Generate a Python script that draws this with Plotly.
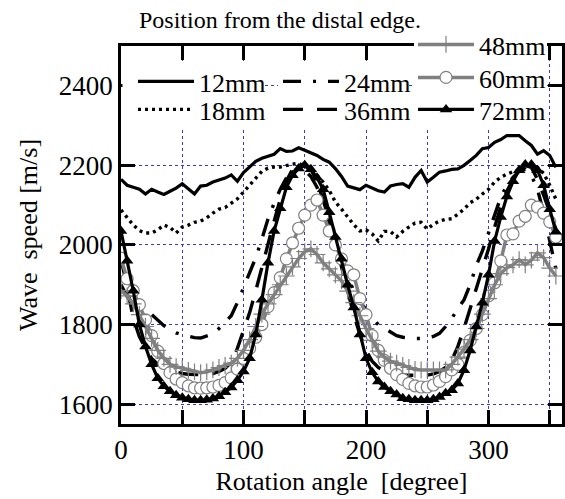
import plotly.graph_objects as go

angles = [0, 5, 10, 15, 20, 25, 30, 35, 40, 45, 50, 55, 60, 65, 70, 75, 80, 85, 90, 95,
          100, 105, 110, 115, 120, 125, 130, 135, 140, 145, 150, 155, 160, 165, 170, 175,
          180, 185, 190, 195, 200, 205, 210, 215, 220, 225, 230, 235, 240, 245, 250, 255,
          260, 265, 270, 275, 280, 285, 290, 295, 300, 305, 310, 315, 320, 325, 330, 335,
          340, 345, 350, 355]

s12 = [2165, 2150, 2145, 2140, 2128, 2140, 2133, 2127, 2135, 2143, 2154, 2140, 2128, 2148, 2150, 2158, 2163, 2168,
       2176, 2160, 2182, 2195, 2210, 2218, 2222, 2228, 2242, 2235, 2236, 2244, 2238, 2232, 2225, 2215, 2208, 2192,
       2172, 2148, 2143, 2139, 2150, 2143, 2136, 2133, 2148, 2152, 2154, 2145, 2170, 2187, 2158, 2170, 2183, 2186,
       2190, 2191, 2200, 2212, 2225, 2242, 2245, 2258, 2265, 2275, 2275, 2275, 2262, 2250, 2228, 2237, 2225, 2195]

s18 = [2088, 2068, 2050, 2036, 2030, 2030, 2038, 2050, 2044, 2030, 2045, 2050, 2057, 2060, 2068, 2080, 2090, 2094,
       2104, 2116, 2133, 2150, 2166, 2185, 2193, 2196, 2196, 2200, 2203, 2205, 2198, 2190, 2175, 2158, 2137, 2108,
       2090, 2070, 2051, 2035, 2038, 2028, 2010, 2034, 2034, 2020, 2034, 2045, 2055, 2057, 2040, 2052, 2060, 2064,
       2066, 2077, 2090, 2106, 2115, 2128, 2140, 2158, 2170, 2178, 2184, 2188, 2195, 2198, 2195, 2180, 2150, 2115]

s24 = [1900, 1870, 1850, 1845, 1838, 1825, 1810, 1797, 1788, 1779, 1774, 1770, 1767, 1766, 1770, 1776, 1790, 1805,
       1822, 1855, 1892, 1930, 1968, 2015, 2065, 2105, 2140, 2168, 2185, 2192, 2188, 2172, 2145, 2105, 2055, 2005,
       1960, 1920, 1885, 1858, 1837, 1818, 1800, 1790, 1780, 1772, 1768, 1766, 1765, 1765, 1766, 1770, 1778, 1795,
       1815, 1840, 1862, 1900, 1948, 1985, 2030, 2080, 2120, 2150, 2170, 2185, 2190, 2175, 2140, 2080, 2010, 1940]

s36 = [1965, 1895, 1815, 1770, 1740, 1715, 1700, 1690, 1684, 1680, 1677, 1675, 1674, 1674, 1675, 1677, 1682, 1690,
       1705, 1740, 1785, 1830, 1885, 1945, 2000, 2060, 2115, 2160, 2190, 2205, 2205, 2190, 2160, 2115, 2065, 2005,
       1945, 1885, 1825, 1775, 1735, 1708, 1692, 1683, 1678, 1675, 1673, 1672, 1672, 1672, 1673, 1676, 1682, 1692,
       1710, 1745, 1790, 1840, 1890, 1935, 1990, 2045, 2095, 2135, 2165, 2190, 2200, 2195, 2165, 2125, 2080, 2040]

s48 = [1885, 1872, 1852, 1825, 1795, 1765, 1735, 1715, 1700, 1694, 1690, 1685, 1681, 1679, 1681, 1686, 1692, 1697,
       1703, 1715, 1735, 1762, 1795, 1826, 1852, 1875, 1900, 1922, 1945, 1966, 1983, 1990, 1976, 1955, 1940, 1925,
       1910, 1884, 1855, 1822, 1790, 1760, 1733, 1718, 1708, 1703, 1697, 1692, 1687, 1686, 1686, 1686, 1686, 1686,
       1700, 1718, 1738, 1762, 1790, 1826, 1865, 1900, 1928, 1943, 1950, 1963, 1950, 1962, 1980, 1968, 1942, 1922]

s60 = [1967, 1915, 1885, 1850, 1812, 1772, 1733, 1702, 1679, 1663, 1654, 1646, 1641, 1640, 1641, 1643, 1647, 1654,
       1666, 1688, 1715, 1740, 1768, 1800, 1845, 1880, 1918, 1965, 2005, 2042, 2075, 2100, 2113, 2075, 2035, 2000,
       1965, 1935, 1925, 1865, 1825, 1772, 1735, 1710, 1690, 1674, 1662, 1652, 1646, 1643, 1643, 1648, 1657, 1669,
       1686, 1700, 1730, 1760, 1790, 1825, 1872, 1905, 1960, 2025, 2028, 2060, 2072, 2100, 2095, 2080, 2058, 2020]

s72 = [2035, 1960, 1885, 1800, 1745, 1700, 1665, 1645, 1632, 1622, 1616, 1612, 1610, 1610, 1611, 1614, 1620, 1630,
       1642, 1660, 1682, 1715, 1775, 1862, 1955, 2035, 2092, 2145, 2175, 2192, 2200, 2190, 2169, 2140, 2082, 2020,
       1965, 1900, 1843, 1775, 1715, 1680, 1657, 1643, 1632, 1624, 1615, 1612, 1610, 1610, 1610, 1612, 1618, 1627,
       1635, 1652, 1685, 1735, 1795, 1855, 1925, 2010, 2070, 2122, 2160, 2188, 2202, 2202, 2188, 2150, 2090, 2033]

x_tick_vals = [0, 50, 100, 150, 200, 250, 300, 350]
x_tick_text = ["0", "", "100", "", "200", "", "300", ""]
y_tick_vals = [1600, 1800, 2000, 2200, 2400]
y_tick_text = ["1600", "1800", "2000", "2200", "2400"]

FONT = "Liberation Serif, Times New Roman, serif"
GRAY = "#808080"

fig = go.Figure()

fig.add_trace(go.Scatter(x=angles, y=s12, name="12mm", mode="lines",
                         line=dict(color="black", width=3.2), legend="legend"))
fig.add_trace(go.Scatter(x=angles, y=s18, name="18mm", mode="lines",
                         line=dict(color="black", width=3.4, dash="3px,4px"), legend="legend2"))
fig.add_trace(go.Scatter(x=angles, y=s24, name="24mm", mode="lines",
                         line=dict(color="black", width=3.4, dash="18px,12px,3px,12px"), legend="legend3"))
fig.add_trace(go.Scatter(x=angles, y=s36, name="36mm", mode="lines",
                         line=dict(color="black", width=3.4, dash="20px,14px"), legend="legend4"))
fig.add_trace(go.Scatter(x=angles, y=s60, name="60mm", mode="lines+markers",
                         line=dict(color=GRAY, width=3.5),
                         marker=dict(symbol="circle", size=12, color="white",
                                     line=dict(color=GRAY, width=1.2)),
                         legend="legend6"))
fig.add_trace(go.Scatter(x=angles, y=s48, name="48mm", mode="lines+markers",
                         line=dict(color=GRAY, width=3.5),
                         marker=dict(symbol="cross-thin-open", size=12, color=GRAY,
                                     line=dict(color=GRAY, width=1.2)),
                         legend="legend5"))
fig.add_trace(go.Scatter(x=angles, y=s72, name="72mm", mode="lines+markers",
                         line=dict(color="black", width=3.2),
                         marker=dict(symbol="triangle-up", size=11, color="black"),
                         legend="legend7"))

L, R, T, B = 121, 3, 46, 75
W = 565 - L - R
H = 499 - T - B


def px_x(p):
    return (p - L) / W


def px_y(p):
    return 1 - (p - T) / H


def leg(left_px, top_px):
    return dict(x=px_x(left_px), y=px_y(top_px), bgcolor="rgba(0,0,0,0)", borderwidth=0,
                font=dict(family=FONT, size=26, color="black"), itemwidth=56,
                xanchor="left", yanchor="top", itemclick=False, itemdoubleclick=False)


def white_box(x0, x1, y0, y1):
    return dict(type="rect", xref="paper", yref="paper", layer="above",
                x0=px_x(x0), x1=px_x(x1), y0=px_y(y1), y1=px_y(y0),
                fillcolor="white", line=dict(width=0))


fig.update_layout(
    width=565, height=499,
    margin=dict(l=L, r=R, t=T, b=B, autoexpand=False),
    paper_bgcolor="white", plot_bgcolor="white",
    font=dict(family=FONT, size=26, color="black"),
    showlegend=True,
    legend=leg(133, 58),
    legend2=leg(133, 86),
    legend3=leg(278, 58),
    legend4=leg(278, 86),
    legend5=leg(413, 21),
    legend6=leg(413, 54),
    legend7=leg(413, 86),
    shapes=[white_box(122.5, 265, 63, 127), white_box(278, 408, 63, 127), white_box(414, 547, 28, 127)],
    xaxis=dict(range=[0, 360], tickvals=x_tick_vals, ticktext=x_tick_text,
               ticks="inside", ticklen=14, tickwidth=2.5, tickcolor="black",
               showline=True, linecolor="black", linewidth=2.8, mirror="ticks",
               showgrid=True, gridcolor="#3333ff", griddash="dot", gridwidth=1,
               zeroline=False, tickfont=dict(family=FONT, size=27),
               title=dict(text="Rotation angle\u00a0\u00a0[degree]", font=dict(family=FONT, size=26), standoff=8)),
    yaxis=dict(range=[1550, 2500], tickvals=y_tick_vals, ticktext=y_tick_text,
               ticks="inside", ticklen=14, tickwidth=2.5, tickcolor="black",
               showline=True, linecolor="black", linewidth=2.8, mirror="ticks",
               showgrid=True, gridcolor="#3333ff", griddash="dot", gridwidth=1,
               zeroline=False, tickfont=dict(family=FONT, size=27),
               title=dict(text="Wave\u00a0\u00a0speed [m/s]", font=dict(family=FONT, size=26), standoff=14)),
    annotations=[dict(text="Position from the distal edge.", xref="paper", yref="paper",
                      x=px_x(137), y=px_y(20), xanchor="left", yanchor="middle",
                      showarrow=False, font=dict(family=FONT, size=24, color="black"))],
)

fig.write_html("out.html")
